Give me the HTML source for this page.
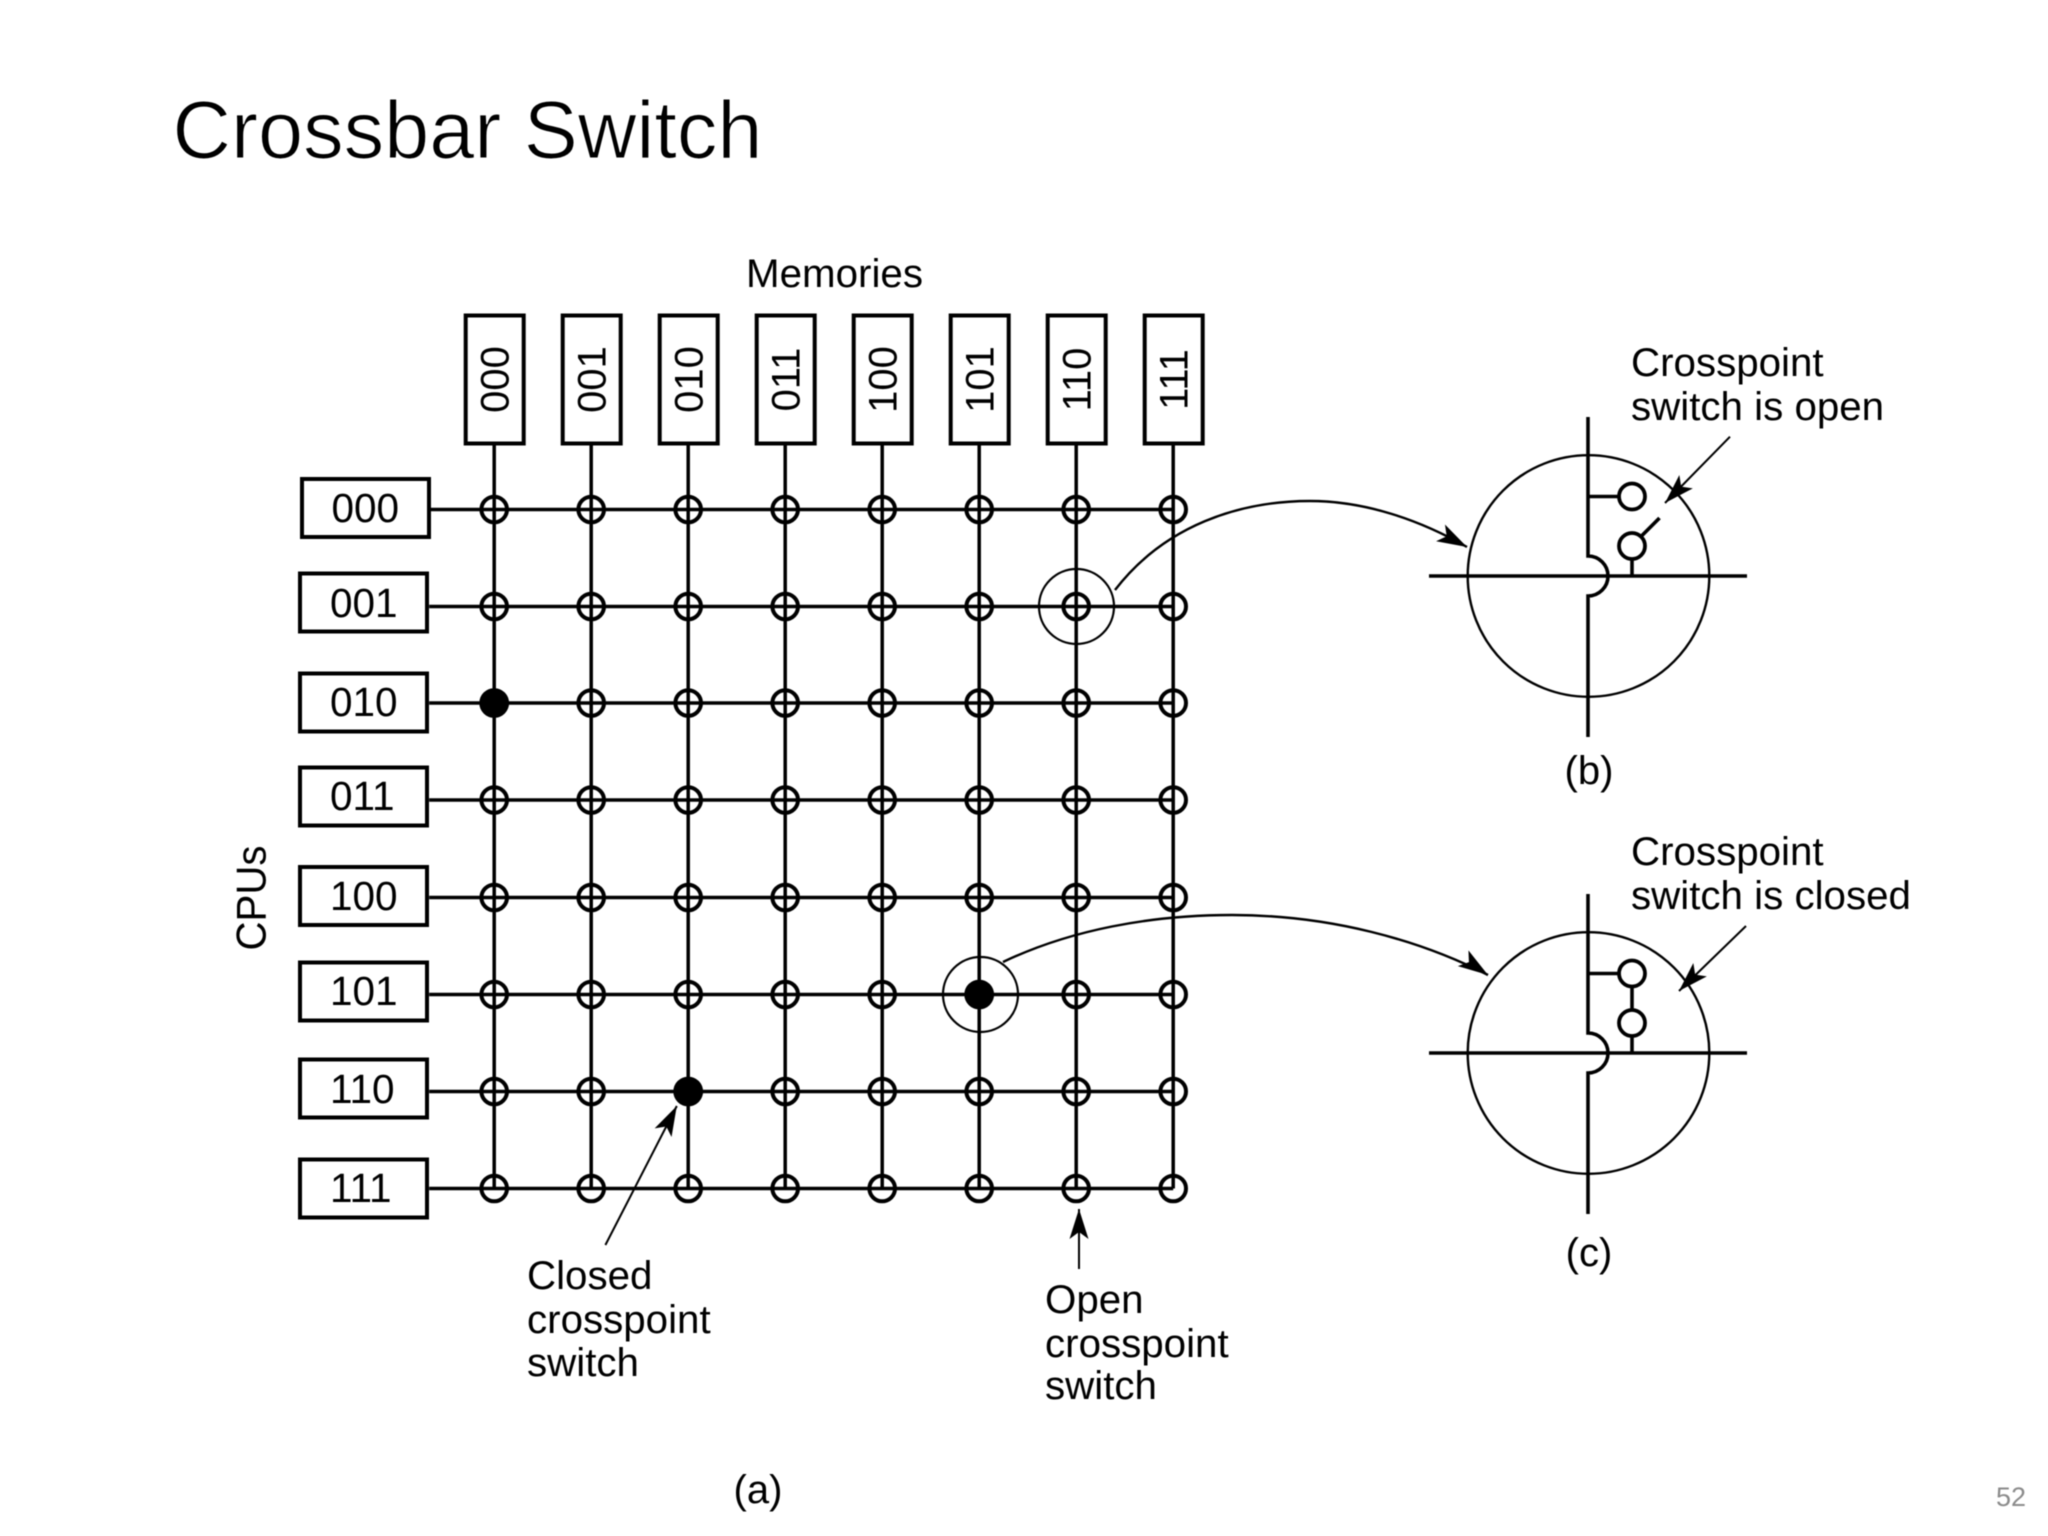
<!DOCTYPE html>
<html lang="en">
<head>
<meta charset="utf-8">
<title>Crossbar Switch</title>
<style>
html,body{margin:0;padding:0;background:#fff}
svg{display:block;filter:blur(.4px)}
text{font-family:"Liberation Sans",sans-serif;fill:#000}
</style>
</head>
<body>
<svg xmlns="http://www.w3.org/2000/svg" width="2048" height="1536" viewBox="0 0 2048 1536">
<defs>
<g id="rowc" fill="none" stroke="#000" stroke-width="4">
<circle cx="495" cy="0" r="12.8"/><circle cx="592" cy="0" r="12.8"/><circle cx="689" cy="0" r="12.8"/><circle cx="786" cy="0" r="12.8"/><circle cx="883" cy="0" r="12.8"/><circle cx="980" cy="0" r="12.8"/><circle cx="1077" cy="0" r="12.8"/><circle cx="1174" cy="0" r="12.8"/>
</g>
<path id="head" d="M0 0L-30 -9.5L-23 0L-30 9.5Z" fill="#000"/>
</defs>
<rect width="2048" height="1536" fill="#fff"/>

<text x="172.5" y="158" font-size="82" textLength="590" lengthAdjust="spacingAndGlyphs" style="fill:#000;stroke:#fff;stroke-width:1.1">Crossbar Switch</text>

<text x="746" y="287" font-size="40" textLength="177" lengthAdjust="spacingAndGlyphs">Memories</text>

<g transform="translate(-.8 -.5)">
<!-- grid lines -->
<g stroke="#000" stroke-width="3.5" fill="none">
<path d="M495 444V1189M592 444V1189M689 444V1189M786 444V1189M883 444V1189M980 444V1189M1077 444V1189M1174 444V1189"/>
<path d="M430 510H1174M430 607H1174M430 703.5H1174M430 800.5H1174M430 898H1174M430 995H1174M430 1092H1174M430 1189H1174"/>
</g>

<!-- crosspoints -->
<use href="#rowc" y="510"/><use href="#rowc" y="607"/><use href="#rowc" y="703.5"/><use href="#rowc" y="800.5"/><use href="#rowc" y="898"/><use href="#rowc" y="995"/><use href="#rowc" y="1092"/><use href="#rowc" y="1189"/>
<circle cx="495" cy="703.5" r="14.8" fill="#000"/>
<circle cx="980" cy="995" r="14.8" fill="#000"/>
<circle cx="689" cy="1092" r="14.8" fill="#000"/>

<!-- memory boxes -->
<g fill="#fff" stroke="#000" stroke-width="4">
<rect x="466.5" y="316" width="58" height="128"/><rect x="563.5" y="316" width="58" height="128"/><rect x="660.5" y="316" width="58" height="128"/><rect x="757.5" y="316" width="58" height="128"/><rect x="854.5" y="316" width="58" height="128"/><rect x="951.5" y="316" width="58" height="128"/><rect x="1048.5" y="316" width="58" height="128"/><rect x="1145.5" y="316" width="58" height="128"/>
</g>
</g>
<g text-anchor="middle" style="font-size:40px">
<text transform="translate(508.5 379.5) rotate(-90)">000</text>
<text transform="translate(605.5 379.5) rotate(-90)">001</text>
<text transform="translate(702.5 379.5) rotate(-90)">010</text>
<text transform="translate(799.5 379.5) rotate(-90)">011</text>
<text transform="translate(896.5 379.5) rotate(-90)">100</text>
<text transform="translate(993.5 379.5) rotate(-90)">101</text>
<text transform="translate(1090.5 379.5) rotate(-90)">110</text>
<text transform="translate(1187.5 379.5) rotate(-90)">111</text>
</g>

<!-- CPU boxes -->
<g fill="#fff" stroke="#000" stroke-width="4">
<rect x="302" y="479" width="127" height="58"/>
<rect x="300" y="573.5" width="127" height="58"/>
<rect x="300" y="673.5" width="127" height="58"/>
<rect x="300" y="767.5" width="127" height="58"/>
<rect x="300" y="867" width="127" height="58"/>
<rect x="300" y="962.5" width="127" height="58"/>
<rect x="300" y="1059.5" width="127" height="58"/>
<rect x="300" y="1159.5" width="127" height="58"/>
</g>
<g style="font-size:40.5px">
<text x="331.5" y="522">000</text>
<text x="330" y="617">001</text>
<text x="330" y="716">010</text>
<text x="330" y="810">011</text>
<text x="330" y="910">100</text>
<text x="330" y="1005">101</text>
<text x="330" y="1103">110</text>
<text x="330" y="1202">111</text>
</g>
<text font-size="42" text-anchor="middle" transform="translate(265.5 898) rotate(-90)" textLength="105" lengthAdjust="spacingAndGlyphs">CPUs</text>

<!-- zoom rings -->
<g fill="none" stroke="#000" stroke-width="2.2">
<circle cx="1076.5" cy="606.5" r="37.5"/>
<circle cx="980.5" cy="994.5" r="37.5"/>
<path d="M1115 590C1165 525 1240 501 1310 501C1365 501 1420 520 1467 547" stroke-width="2.4"/>
<path d="M1003 962C1070 930 1150 915 1232 915C1330 915 1420 940 1488 975" stroke-width="2.4"/>
<path d="M605.4 1245L676.8 1106" stroke-width="2"/>
<path d="M1079 1269V1209" stroke-width="2"/>
<path d="M1730 436.7L1665 503" stroke-width="2"/>
<path d="M1746 926L1679 991" stroke-width="2"/>
</g>
<use href="#head" transform="translate(1467 547) rotate(28)"/>
<use href="#head" transform="translate(1488 975) rotate(34)"/>
<use href="#head" transform="translate(676.8 1106) rotate(-62.8)"/>
<use href="#head" transform="translate(1079 1209) rotate(-90)"/>
<use href="#head" transform="translate(1665 503) rotate(134.7)"/>
<use href="#head" transform="translate(1679 991) rotate(134.7)"/>

<!-- (b) -->
<g fill="none" stroke="#000">
<circle cx="1588.5" cy="576" r="120.8" stroke-width="2.4"/>
<path d="M1429 576H1747" stroke-width="3.6"/>
<path d="M1588 417V556A20 20 0 0 1 1588 596V737" stroke-width="3.6"/>
<path d="M1588 496.5H1619M1632 559V576M1641 536.5L1659.5 518" stroke-width="3.6"/>
<circle cx="1632" cy="496.5" r="13" stroke-width="3.8"/>
<circle cx="1632" cy="546" r="13" stroke-width="3.8"/>
</g>
<!-- (c) -->
<g fill="none" stroke="#000">
<circle cx="1588.5" cy="1053" r="120.8" stroke-width="2.4"/>
<path d="M1429 1053H1747" stroke-width="3.6"/>
<path d="M1588 894V1033A20 20 0 0 1 1588 1073V1214" stroke-width="3.6"/>
<path d="M1588 973.5H1619M1632 1036V1053M1632 986V1010" stroke-width="3.6"/>
<circle cx="1632" cy="973.5" r="13" stroke-width="3.8"/>
<circle cx="1632" cy="1023" r="13" stroke-width="3.8"/>
</g>

<!-- labels -->
<g style="font-size:40.3px">
<text x="1631" y="376">Crosspoint</text>
<text x="1631" y="420">switch is open</text>
<text x="1631" y="865">Crosspoint</text>
<text x="1631" y="909">switch is closed</text>
<text x="527" y="1289">Closed</text>
<text x="527" y="1333">crosspoint</text>
<text x="527" y="1376">switch</text>
<text x="1045" y="1313">Open</text>
<text x="1045" y="1357">crosspoint</text>
<text x="1045" y="1399">switch</text>
</g>
<g style="font-size:40px" text-anchor="middle">
<text x="1589" y="784">(b)</text>
<text x="1589" y="1266">(c)</text>
<text x="758" y="1503">(a)</text>
</g>
<text x="1996" y="1506" font-size="27" textLength="30" lengthAdjust="spacingAndGlyphs" style="fill:#8b8b8b">52</text>
</svg>
</body>
</html>
